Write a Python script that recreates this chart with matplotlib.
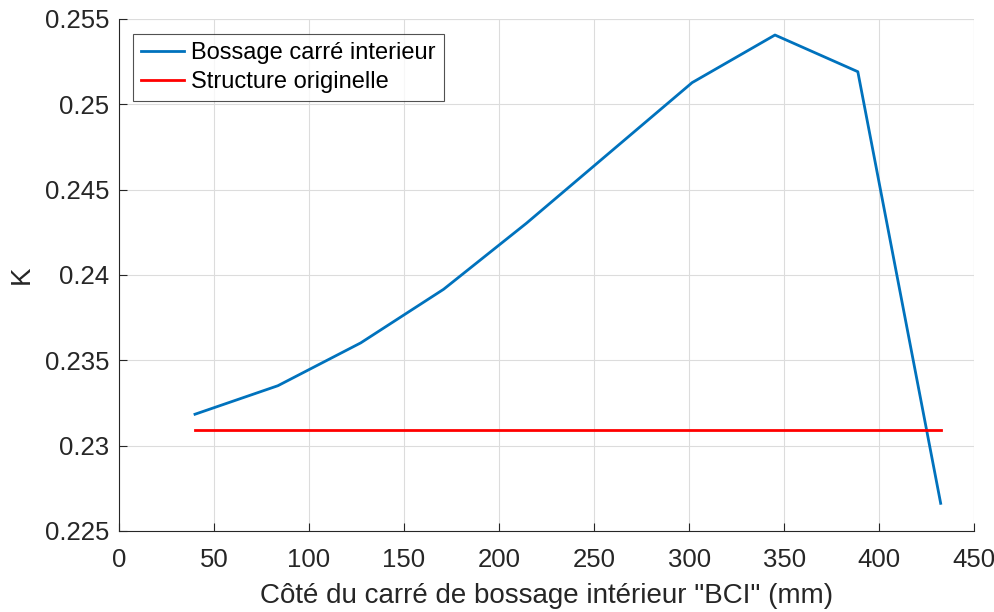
import matplotlib.pyplot as plt

plt.rcParams['font.family'] = ['Liberation Sans', 'DejaVu Sans']

# data
cote_bci = [40, 83.6, 127.2, 170.8, 214.4, 258, 301.6, 345.2, 388.8, 432.4]
k_bossage = [0.23184, 0.23351, 0.23602, 0.23916, 0.24303, 0.24715, 0.25127, 0.25406, 0.25191, 0.22662]
k_original = 0.2309

x_ticks = [0, 50, 100, 150, 200, 250, 300, 350, 400, 450]
y_ticks = [0.225, 0.23, 0.235, 0.24, 0.245, 0.25, 0.255]
y_labels = ["0.225", "0.23", "0.235", "0.24", "0.245", "0.25", "0.255"]

fig = plt.figure(figsize=(9.94, 6.12), dpi=100)
ax = fig.add_axes([0.1197, 0.1324, 0.8603, 0.8366])

ax.plot(cote_bci, k_bossage, color="#0072BD", lw=2, label="Bossage carré interieur")
ax.plot([cote_bci[0], cote_bci[-1]], [k_original, k_original], color="#FF0000", lw=2,
        label="Structure originelle")

ax.set_xlim(0, 450)
ax.set_ylim(0.225, 0.255)
ax.set_xticks(x_ticks)
ax.set_yticks(y_ticks)
ax.set_yticklabels(y_labels)
ax.grid(True, color="#dcdcdc", lw=0.8)
ax.set_axisbelow(True)

for side in ("top", "right"):
    ax.spines[side].set_visible(False)
for side in ("left", "bottom"):
    ax.spines[side].set_color("#262626")
    ax.spines[side].set_linewidth(0.8)
# grid lines at the far limits stand in for the missing box
ax.axhline(0.255, color="#dcdcdc", lw=0.8, zorder=0)
ax.axvline(450, color="#dcdcdc", lw=0.8, zorder=0)

ax.tick_params(direction="in", length=6, width=0.8, colors="#262626", labelsize=18.5)
ax.tick_params(axis="x", pad=12)
ax.tick_params(axis="y", pad=7)

ax.set_xlabel('Côté du carré de bossage intérieur "BCI" (mm)', fontsize=20, color="#262626",
              labelpad=8)
ax.set_ylabel("K", fontsize=20, color="#262626", labelpad=7)

leg = ax.legend(loc="upper left", fontsize=17, frameon=True, fancybox=False,
                edgecolor="#262626", handlelength=1.8, handletextpad=0.3, borderpad=0.35,
                labelspacing=0.3, borderaxespad=0, bbox_to_anchor=(0.0164, 0.971))
leg.get_frame().set_linewidth(0.8)

fig.savefig("out.png", dpi=100)
